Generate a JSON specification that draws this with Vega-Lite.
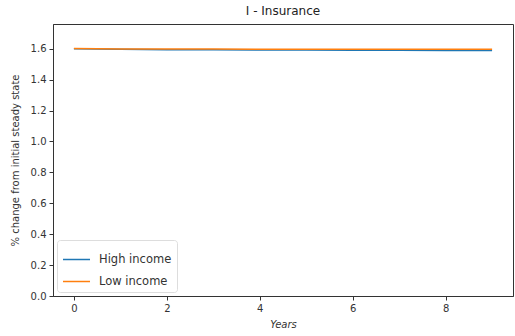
{
  "$schema": "https://vega.github.io/schema/vega-lite/v6.json",
  "width": 460,
  "height": 272,
  "autosize": {"type": "none"},
  "padding": {"left": 53, "top": 24, "right": 2, "bottom": 40},
  "background": "white",
  "title": {"text": "I - Insurance", "fontSize": 12, "fontWeight": "normal", "font": "DejaVu Sans", "color": "#222", "offset": 6},
  "config": {
    "view": {"stroke": "#333", "strokeWidth": 1},
    "axis": {"grid": false, "domainColor": "#333", "tickColor": "#333", "labelFont": "DejaVu Sans", "titleFont": "DejaVu Sans", "labelFontSize": 10, "titleFontSize": 10, "labelColor": "#333", "titleColor": "#333", "titleFontWeight": "normal", "tickSize": 4, "labelPadding": 3}
  },
  "data": {"values": [
    {"year": 0, "value": 1.600, "group": "High income"},
    {"year": 1, "value": 1.596, "group": "High income"},
    {"year": 2, "value": 1.594, "group": "High income"},
    {"year": 3, "value": 1.593, "group": "High income"},
    {"year": 4, "value": 1.592, "group": "High income"},
    {"year": 5, "value": 1.591, "group": "High income"},
    {"year": 6, "value": 1.590, "group": "High income"},
    {"year": 7, "value": 1.590, "group": "High income"},
    {"year": 8, "value": 1.589, "group": "High income"},
    {"year": 9, "value": 1.588, "group": "High income"},
    {"year": 0, "value": 1.601, "group": "Low income"},
    {"year": 1, "value": 1.599, "group": "Low income"},
    {"year": 2, "value": 1.598, "group": "Low income"},
    {"year": 3, "value": 1.598, "group": "Low income"},
    {"year": 4, "value": 1.597, "group": "Low income"},
    {"year": 5, "value": 1.597, "group": "Low income"},
    {"year": 6, "value": 1.597, "group": "Low income"},
    {"year": 7, "value": 1.596, "group": "Low income"},
    {"year": 8, "value": 1.596, "group": "Low income"},
    {"year": 9, "value": 1.596, "group": "Low income"}
  ]},
  "mark": {"type": "line", "strokeWidth": 1.5, "clip": true},
  "encoding": {
    "x": {"field": "year", "type": "quantitative", "scale": {"domain": [-0.45, 9.45], "nice": false, "zero": false},
      "axis": {"values": [0, 2, 4, 6, 8], "title": "Years", "titleFontStyle": "italic", "titlePadding": 6}},
    "y": {"field": "value", "type": "quantitative", "scale": {"domain": [0, 1.76], "nice": false},
      "axis": {"values": [0, 0.2, 0.4, 0.6, 0.8, 1.0, 1.2, 1.4, 1.6], "format": ".1f", "title": "% change from initial steady state", "titlePadding": 10}},
    "color": {"field": "group", "type": "nominal",
      "scale": {"domain": ["High income", "Low income"], "range": ["#1f77b4", "#ff7f0e"]},
      "legend": {"title": null, "orient": "bottom-left", "offset": 4, "symbolType": "stroke", "symbolSize": 729, "symbolStrokeWidth": 1.5,
        "labelFont": "DejaVu Sans", "labelFontSize": 11.5, "labelColor": "#333", "labelOffset": 8, "strokeColor": "#ddd", "fillColor": "white", "padding": 5, "cornerRadius": 3, "rowPadding": 2, "symbolOffset": 0}}
  }
}
